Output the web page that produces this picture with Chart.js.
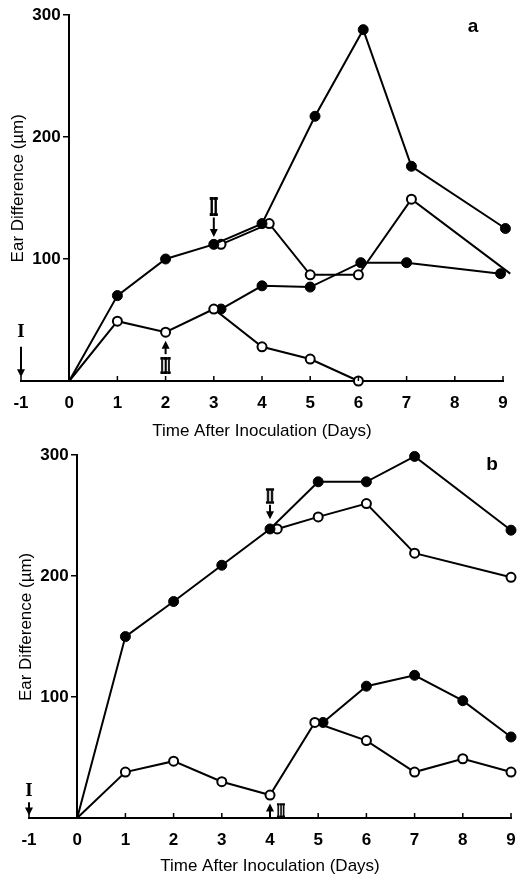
<!DOCTYPE html>
<html>
<head>
<meta charset="utf-8">
<title>Ear Difference</title>
<script src="https://cdn.jsdelivr.net/npm/chart.js@4.4.0/dist/chart.umd.min.js"></script>
<style>
  html, body { margin: 0; padding: 0; background: #fff; }
  .panel { position: absolute; left: 0; width: 531px; }
  #wrapA { top: 0; height: 442px; }
  #wrapB { top: 442px; height: 435px; }
</style>
</head>
<body>
<div class="panel" id="wrapA"><canvas id="chartA"></canvas></div>
<div class="panel" id="wrapB"><canvas id="chartB"></canvas></div>
<script>
// tick values
const yTicks = [100, 200, 300];

// panel a
const a1Days = [0, 1, 2, 3, 4, 5.1, 6.1, 7.1, 9.05];
const a1Vals = [0, 70, 100, 112, 129, 217, 288, 176, 125];
const a2Days = [3.15, 4.15, 5, 6, 7.1, 9.15];
const a2Vals = [112, 129, 87, 87, 149, 88];
const a3Days = [0, 1, 2, 3, 4, 5, 6];
const a3Vals = [0, 49, 40, 59, 28, 18, 0];
const a4Days = [3.15, 4, 5, 6.05, 7, 8.95];
const a4Vals = [59, 78, 77, 97, 97, 88];

// panel b
const b1Days = [0, 1, 2, 3, 4, 5, 6, 7, 9];
const b1Vals = [0, 150, 179, 209, 239, 278, 278, 299, 238];
const b2Days = [4.15, 5, 6, 7, 9];
const b2Vals = [239, 249, 260, 219, 199];
const b3Days = [0, 1, 2, 3, 4, 4.93, 6, 7, 8, 9];
const b3Vals = [0, 38, 47, 30, 19, 79, 64, 38, 49, 38];
const b4Days = [5.1, 6, 7, 8, 9];
const b4Vals = [79, 109, 118, 97, 67];

const FONT = "'Liberation Sans', Arial, sans-serif";
const SERIF = "'Liberation Serif', 'DejaVu Serif', serif";

function series(days, vals, filled) {
    return {
        data: days.map((d, i) => ({ x: d, y: vals[i] })),
        showLine: true,
        borderColor: '#000',
        borderWidth: 2,
        tension: 0,
        clip: false,
        pointRadius: ctx => (ctx.raw && ctx.raw.x === 0 && ctx.raw.y === 0) ? 0 : (filled ? 5 : 4.5),
        pointBackgroundColor: filled ? '#000' : '#fff',
        pointBorderColor: '#000',
        pointBorderWidth: filled ? 1 : 2
    };
}

function drawArrow(ctx, x, yTail, yTip) {
    const dir = yTip > yTail ? 1 : -1;
    ctx.beginPath();
    ctx.moveTo(x, yTail);
    ctx.lineTo(x, yTip - dir * 6);
    ctx.lineWidth = 2;
    ctx.stroke();
    ctx.beginPath();
    ctx.moveTo(x - 4, yTip - dir * 8);
    ctx.lineTo(x + 4, yTip - dir * 8);
    ctx.lineTo(x, yTip);
    ctx.closePath();
    ctx.fill();
}

// roman numeral marks; the II / III ones are squeezed into narrow dark blocks like the print
function drawNumeral(ctx, m, x, y) {
    ctx.save();
    ctx.translate(x, y);
    ctx.textAlign = 'center';
    if (m.block) {
        ctx.font = 'bold 20px ' + SERIF;
        const w = ctx.measureText(m.text).width;
        const capH = 13.3;
        ctx.scale(m.thick / w, m.len / capH);
        ctx.textBaseline = 'alphabetic';
        ctx.lineWidth = 1.6;
        ctx.strokeText(m.text, 0, capH / 2);
        ctx.fillText(m.text, 0, capH / 2);
    } else {
        ctx.font = 'bold 19px ' + SERIF;
        ctx.textBaseline = 'middle';
        ctx.fillText(m.text, 0, 0);
    }
    ctx.restore();
}

// draws up-pointing x ticks, y title, panel letter and the I/II/III arrows
const extras = {
    id: 'extras',
    afterDraw(chart, args, opts) {
        const { ctx, scales: { x, y } } = chart;
        ctx.save();
        ctx.strokeStyle = '#000';
        ctx.fillStyle = '#000';
        ctx.lineWidth = 1.5;
        const y0 = y.getPixelForValue(0);
        x.ticks.forEach(t => {
            const px = x.getPixelForValue(t.value);
            ctx.beginPath();
            ctx.moveTo(px, y0);
            ctx.lineTo(px, y0 - 5);
            ctx.stroke();
        });

        ctx.save();
        ctx.translate(x.getPixelForValue(-1) - 3, y.getPixelForValue(158));
        ctx.rotate(-Math.PI / 2);
        ctx.font = '17px ' + FONT;
        ctx.textAlign = 'center';
        ctx.textBaseline = 'middle';
        ctx.fillText('Ear Difference (\u00b5m)', 0, 0);
        ctx.restore();

        ctx.font = 'bold 19px ' + FONT;
        ctx.textAlign = 'center';
        ctx.textBaseline = 'middle';
        ctx.fillText(opts.letter, opts.letterX, opts.letterY);

        opts.marks.forEach(m => {
            const px = x.getPixelForValue(m.day);
            drawArrow(ctx, px, y.getPixelForValue(m.tail), y.getPixelForValue(m.tip));
            drawNumeral(ctx, m, px + (m.dx || 0), y.getPixelForValue(m.at));
        });
        ctx.restore();
    }
};

function makeChart(id, datasets, geo, extraOpts) {
    return new Chart(document.getElementById(id), {
        type: 'scatter',
        data: { datasets: datasets },
        plugins: [extras],
        options: {
            animation: false,
            responsive: true,
            maintainAspectRatio: false,
            layout: { padding: geo.padding },
            plugins: {
                legend: { display: false },
                tooltip: { enabled: false },
                extras: extraOpts
            },
            scales: {
                x: {
                    type: 'linear',
                    position: 'bottom',
                    min: -1,
                    max: 9,
                    ticks: {
                        stepSize: 1,
                        autoSkip: false,
                        maxRotation: 0,
                        padding: 12,
                        color: '#000',
                        font: { family: FONT, size: 17, weight: 'bold' }
                    },
                    grid: { display: false, drawTicks: false },
                    border: { display: true, color: '#000', width: 2 },
                    title: {
                        display: true,
                        text: 'Time After Inoculation (Days)',
                        color: '#000',
                        padding: 0,
                        font: { family: FONT, size: 17 }
                    },
                    afterFit: s => { s.height = geo.xHeight; }
                },
                y: {
                    type: 'linear',
                    position: { x: 0 },
                    min: 0,
                    max: 300,
                    afterBuildTicks: s => { s.ticks = yTicks.map(v => ({ value: v })); },
                    ticks: {
                        // labels sit right against an axis placed at x = 0, so pad them with an en space
                        callback: v => v + '\u2002',
                        color: '#000',
                        font: { family: FONT, size: 17, weight: 'bold' }
                    },
                    grid: { drawOnChartArea: false, drawTicks: true, tickLength: 5, color: '#000', lineWidth: 1.5 },
                    border: { display: true, color: '#000', width: 2 }
                }
            }
        }
    });
}

makeChart('chartA', [
    series(a1Days, a1Vals, true),
    series(a2Days, a2Vals, false),
    series(a3Days, a3Vals, false),
    series(a4Days, a4Vals, true)
], { padding: { left: 21, right: 28, top: 15, bottom: 0 }, xHeight: 61 }, {
    letter: 'a', letterX: 473, letterY: 27,
    marks: [
        { day: -1, text: 'I', at: 40, tail: 28, tip: 3 },
        { day: 3, text: 'II', at: 143, tail: 134, tip: 118, block: true, len: 17, thick: 8 },
        { day: 2, text: 'III', at: 13, tail: 22, tip: 33, block: true, len: 16, thick: 10 }
    ]
});

makeChart('chartB', [
    series(b1Days, b1Vals, true),
    series(b2Days, b2Vals, false),
    series(b3Days, b3Vals, false),
    series(b4Days, b4Vals, true)
], { padding: { left: 29, right: 20, top: 12, bottom: 0 }, xHeight: 59 }, {
    letter: 'b', letterX: 492, letterY: 23,
    marks: [
        { day: -1, text: 'I', at: 22, tail: 13, tip: 2 },
        { day: 4, text: 'II', at: 266, tail: 259, tip: 247, block: true, len: 14, thick: 8 },
        { day: 4, text: 'III', at: 6, tail: 0, tip: 12, block: true, len: 13, thick: 8, dx: 11 }
    ]
});
</script>
</body>
</html>
